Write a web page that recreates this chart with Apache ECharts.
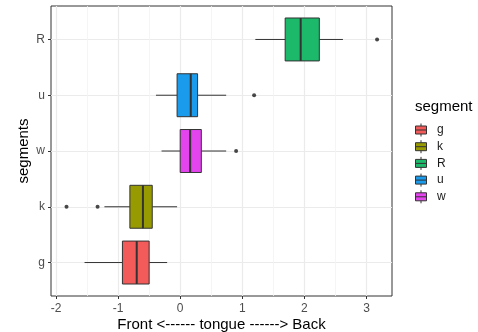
<!DOCTYPE html>
<html>
<head>
<meta charset="utf-8">
<script src="https://cdn.jsdelivr.net/npm/echarts@6/dist/echarts.min.js"></script>
<style>
  html, body { margin: 0; padding: 0; background: #fff; }
  #main { width: 478px; height: 332px; }
</style>
</head>
<body>
<div id="main"></div>
<script>
// segments, bottom to top on the y axis (positions 1..5)
var segments = ['g', 'k', 'w', 'u', 'R'];
var legendOrder = ['g', 'k', 'R', 'u', 'w'];
var segColors = { g: '#F35B5B', k: '#979A00', R: '#1CB96B', u: '#1A9BEB', w: '#E344EE' };
// [min whisker, Q1, median, Q3, max whisker]
var boxStats = {
    g: [-1.54, -0.93, -0.70, -0.50, -0.21],
    k: [-1.22, -0.81, -0.60, -0.45, -0.05],
    w: [-0.30, 0.00, 0.16, 0.34, 0.74],
    u: [-0.39, -0.05, 0.17, 0.28, 0.74],
    R: [1.21, 1.69, 1.94, 2.24, 2.62]
};
// [value, segment]
var outliers = [[3.17, 'R'], [1.19, 'u'], [0.90, 'w'], [-1.83, 'k'], [-1.33, 'k']];
var xTicks = [-2, -1, 0, 1, 2, 3];
var xMinor = [-1.5, -0.5, 0.5, 1.5, 2.5];
var yTicks = [1, 2, 3, 4, 5];

var font = 'Liberation Sans, Arial, sans-serif';

function renderBox(params, api) {
    var y = api.value(0);
    var half = api.size([0, 1])[1] * 0.385;
    var p = [];
    for (var i = 1; i <= 5; i++) p.push(api.coord([api.value(i), y]));
    var cy = p[0][1];
    var line = { stroke: '#333333', lineWidth: 1 };
    return {
        type: 'group',
        children: [
            { type: 'line', shape: { x1: p[0][0], y1: cy, x2: p[1][0], y2: cy }, style: line },
            { type: 'line', shape: { x1: p[3][0], y1: cy, x2: p[4][0], y2: cy }, style: line },
            { type: 'rect', shape: { x: p[1][0], y: cy - half, width: p[3][0] - p[1][0], height: half * 2 },
              style: { fill: api.visual('color'), stroke: '#333333', lineWidth: 1 } },
            { type: 'line', shape: { x1: p[2][0], y1: cy - half, x2: p[2][0], y2: cy + half },
              style: { stroke: '#333333', lineWidth: 2 } }
        ]
    };
}

var series = legendOrder.map(function (s) {
    return {
        name: s,
        type: 'custom',
        renderItem: renderBox,
        itemStyle: { color: segColors[s], borderColor: '#333333', borderWidth: 1 },
        encode: { x: [1, 2, 3, 4, 5], y: 0 },
        data: [[segments.indexOf(s) + 1].concat(boxStats[s])],
        z: 3
    };
});
series.push({
    type: 'scatter',
    symbolSize: 4,
    itemStyle: { color: '#1a1a1a' },
    data: outliers.map(function (o) { return [o[0], segments.indexOf(o[1]) + 1]; }),
    z: 4
});

var chart = echarts.init(document.getElementById('main'));
chart.setOption({
    animation: false,
    backgroundColor: '#ffffff',
    textStyle: { fontFamily: font },
    title: {
        text: 'segment',
        left: 410,
        top: 94,
        textStyle: { fontFamily: font, fontSize: 15, fontWeight: 'normal', color: '#000' }
    },
    legend: {
        data: legendOrder,
        orient: 'vertical',
        left: 410,
        top: 118,
        itemWidth: 14,
        itemHeight: 13,
        itemGap: 2.7,
        icon: 'path://M6,0V2.5M0.5,2.5H11.5V10.5H0.5ZM0.5,6.5H11.5M6,10.5V13',
        itemStyle: { borderColor: '#333333', borderWidth: 1 },
        textStyle: { fontFamily: font, fontSize: 12, lineHeight: 13, color: '#1a1a1a', padding: [0, 0, 0, 4] },
        selectedMode: false
    },
    grid: {
        left: 51, top: 6, width: 341, height: 290, outerBoundsMode: 'none',
        show: true, borderColor: '#333333', borderWidth: 1, backgroundColor: 'transparent'
    },
    xAxis: [
        {
            type: 'value', min: -2.08, max: 3.41,
            name: 'Front <------ tongue ------> Back',
            nameLocation: 'middle', nameGap: 21, nameMoveOverlap: false,
            nameTextStyle: { fontFamily: font, fontSize: 15, color: '#000' },
            axisLine: { show: false, onZero: false },
            axisTick: { show: true, length: 3, customValues: xTicks, lineStyle: { color: '#333333' } },
            axisLabel: { customValues: xTicks, margin: 7, fontSize: 12, color: '#4D4D4D', fontFamily: font },
            splitLine: { show: true, lineStyle: { color: '#EBEBEB', width: 1.2 } }
        },
        {
            type: 'value', min: -2.08, max: 3.41,
            axisLine: { show: false, onZero: false },
            axisTick: { show: false, customValues: xMinor },
            axisLabel: { show: false, customValues: xMinor },
            splitLine: { show: true, lineStyle: { color: '#F2F2F2', width: 0.8 } }
        }
    ],
    yAxis: {
        type: 'value', min: 0.4, max: 5.6,
        name: 'segments', nameLocation: 'middle', nameGap: 20, nameMoveOverlap: false,
        nameTextStyle: { fontFamily: font, fontSize: 15, color: '#000' },
        axisLine: { show: false, onZero: false },
        axisTick: { show: true, length: 3, customValues: yTicks, lineStyle: { color: '#333333' } },
        axisLabel: {
            customValues: yTicks, margin: 6, fontSize: 12, color: '#4D4D4D', fontFamily: font,
            formatter: function (v) { return segments[Math.round(v) - 1]; }
        },
        splitLine: { show: true, lineStyle: { color: '#EBEBEB', width: 1.2 } }
    },
    series: series
});
</script>
</body>
</html>
